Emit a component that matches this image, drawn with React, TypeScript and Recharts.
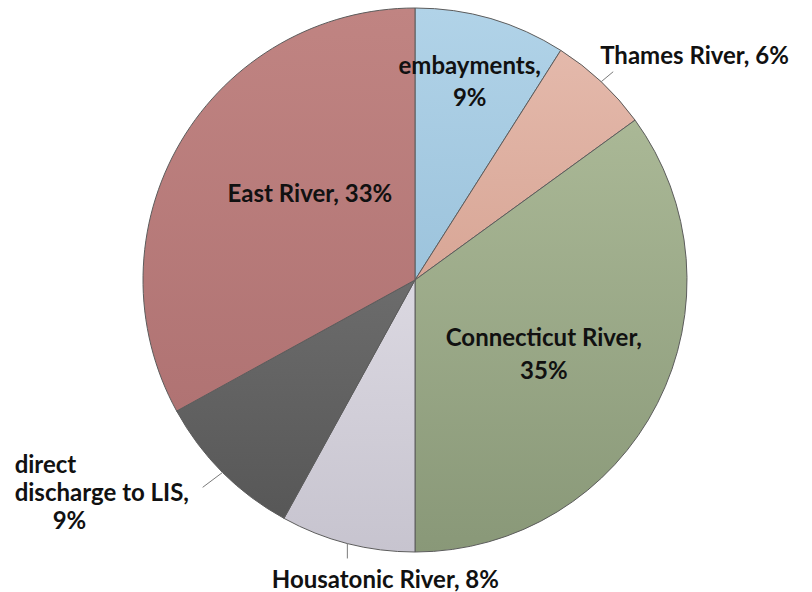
import { Cell, Pie, PieChart } from "recharts";

// load shares by source, clockwise from 12 o'clock
const sources = [
  "embayments",
  "Thames River",
  "Connecticut River",
  "Housatonic River",
  "direct discharge to LIS",
  "East River",
];
const shares = [9, 6, 35, 8, 9, 33];
const labelLines = [
  ["embayments,", "9%"],
  ["Thames River, 6%"],
  ["Connecticut River,", "35%"],
  ["Housatonic River, 8%"],
  ["direct", "discharge to LIS,", "9%"],
  ["East River, 33%"],
];

const topColors = ["#b1d3e8", "#e4b9ab", "#aab896", "#dbd8e1", "#6c6c6c", "#c08482"];
const bottomColors = ["#9cc3dc", "#d8a696", "#899878", "#c7c4cf", "#575757", "#b07373"];

const data = sources.map((name, i) => ({ name, value: shares[i] }));

const RAD = Math.PI / 180;
const FONT = 24;

// how each label sits relative to its slice
const labelLayout: any[] = [
  { inside: true, r: 0.76, dx: -3, dy: -1, lh: 32 },
  { inside: false, lead: [12, -10], dx: -13, dy: -17, anchor: "start", lh: 28 },
  { inside: true, r: 0.54, dx: -2, dy: 6, lh: 33 },
  { inside: false, lead: [0, 15], dx: 38, dy: 20, anchor: "middle", lh: 28 },
  { inside: false, lead: [-20, 15], dx: -188, dy: -24, anchor: "start", lh: 28, indent: [0, 0, 38] },
  { inside: true, r: 0.5, dx: 12, dy: -18, lh: 30 },
];

function renderLabel(props: any) {
  const { cx, cy, midAngle, outerRadius, index } = props;
  const cfg = labelLayout[index];
  const lines = labelLines[index];
  const cos = Math.cos(-midAngle * RAD);
  const sin = Math.sin(-midAngle * RAD);

  if (cfg.inside) {
    const x = cx + outerRadius * cfg.r * cos + cfg.dx;
    const y = cy + outerRadius * cfg.r * sin + cfg.dy;
    const top = y - ((lines.length - 1) * cfg.lh) / 2;
    return (
      <text key={`l${index}`} textAnchor="middle" fontSize={FONT} fontWeight={700} fill="#111">
        {lines.map((t: string, k: number) => (
          <tspan key={k} x={x} y={top + k * cfg.lh} dominantBaseline="central">
            {t}
          </tspan>
        ))}
      </text>
    );
  }

  const ex = cx + outerRadius * cos;
  const ey = cy + outerRadius * sin;
  const lx = ex + cfg.lead[0];
  const ly = ey + cfg.lead[1];
  const tx = lx + cfg.dx;
  const ty = ly + cfg.dy;
  return (
    <g key={`l${index}`}>
      <line x1={ex} y1={ey} x2={lx} y2={ly} stroke="#7a7a7a" strokeWidth={1} />
      <text textAnchor={cfg.anchor} fontSize={FONT} fontWeight={700} fill="#111">
        {lines.map((t: string, k: number) => (
          <tspan
            key={k}
            x={tx + (cfg.indent ? cfg.indent[k] : 0)}
            y={ty + k * cfg.lh}
            dominantBaseline="central"
          >
            {t}
          </tspan>
        ))}
      </text>
    </g>
  );
}

export default function App() {
  return (
    <div
      style={{
        position: "absolute",
        left: 0,
        top: 0,
        width: 812,
        height: 592,
        background: "#fff",
        fontFamily: "Lato, 'Open Sans', sans-serif",
      }}
    >
      <PieChart width={812} height={592} margin={{ top: 0, right: 0, bottom: 0, left: 0 }}>
        <defs>
          {sources.map((_, i) => (
            <linearGradient key={i} id={`g${i}`} x1="0" y1="0" x2="0" y2="1">
              <stop offset="0%" stopColor={topColors[i]} />
              <stop offset="100%" stopColor={bottomColors[i]} />
            </linearGradient>
          ))}
        </defs>
        <Pie
          data={data}
          dataKey="value"
          nameKey="name"
          cx={415}
          cy={280}
          outerRadius={272}
          startAngle={90}
          endAngle={-270}
          stroke="#5c5c5c"
          strokeWidth={1}
          label={renderLabel}
          labelLine={false}
          isAnimationActive={false}
        >
          {data.map((_, i) => (
            <Cell key={i} fill={`url(#g${i})`} />
          ))}
        </Pie>
      </PieChart>
    </div>
  );
}
